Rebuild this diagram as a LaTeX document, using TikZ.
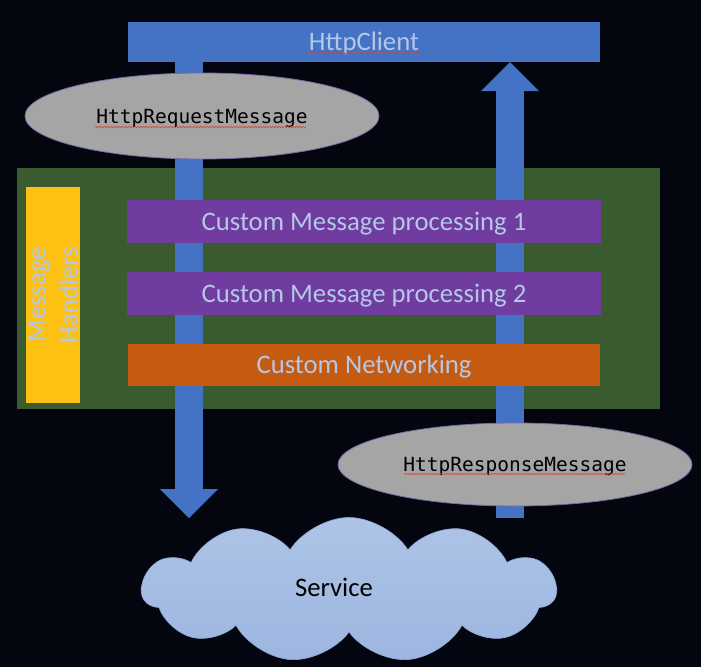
\documentclass[tikz,border=0pt]{standalone}
\usepackage{fontspec}
\setmainfont{Carlito}
\newfontfamily\codefont{DejaVu Sans Mono}
\usetikzlibrary{shapes.geometric,shapes.symbols,arrows.meta,decorations.pathmorphing}

\definecolor{bgnavy}{HTML}{03060F}
\definecolor{clientblue}{HTML}{4472C4}
\definecolor{textblue}{HTML}{B4C7E7}
\definecolor{handlergreen}{HTML}{3A5A30}
\definecolor{handleryellow}{HTML}{FDC114}
\definecolor{stepviolet}{HTML}{703CA0}
\definecolor{netorange}{HTML}{C55A11}
\definecolor{msggray}{HTML}{A5A5A5}
\definecolor{msgedge}{HTML}{7B68A6}
\definecolor{cloudblue}{HTML}{ADC4E7}
\definecolor{cloudlow}{HTML}{9DB6E0}
\definecolor{cloudedge}{HTML}{8FA8D8}
\definecolor{spellred}{HTML}{D9442B}

\tikzset{
  plainbox/.style={rectangle, inner sep=0pt, draw=none},
  bigfont/.style={font=\fontsize{26.7}{32}\selectfont},
  bigtext/.style={bigfont, text=textblue, text height=17.2pt, text depth=0pt},
  msg/.style={ellipse, fill=msggray, draw=msgedge, line width=0.8pt, inner sep=0pt,
    font=\codefont\fontsize{19.5}{23}\selectfont, text=black,
    text height=14.2pt, text depth=0pt},
  flow/.style={draw=clientblue, line width=28pt,
    -{Triangle[length=29pt, width=58pt, line width=0pt]}},
  squiggle/.style={draw=spellred, line width=0.6pt, decorate,
    decoration={snake, amplitude=0.7pt, segment length=3pt}},
}

\begin{document}
\begin{tikzpicture}[x=1pt, y=-1pt]
  % background
  \fill[bgnavy] (0,0) rectangle (701,667);
  \useasboundingbox (0,0) rectangle (701,667);

  % client on top
  \node[plainbox, fill=clientblue, minimum width=472pt, minimum height=40pt, bigtext] (client) at (364,42) {HttpClient};

  % handler area
  \node[plainbox, fill=handlergreen, minimum width=643pt, minimum height=241pt] (handlers) at (338.5,288.5) {};
  \node[plainbox, fill=handleryellow, minimum width=54pt, minimum height=216pt] (handlertag) at (53,295) {};
  \node[bigfont, text=textblue, rotate=90, align=center, inner sep=0pt] (handlername) at (handlertag) {Message\\Handlers};

  % request goes down, response comes up
  \coordinate (sendtip) at (189,518);
  \coordinate (backfoot) at (510,518);
  \draw[flow] (client.south -| sendtip) -- (sendtip);
  \draw[flow] (backfoot) -- (client.south -| backfoot);

  % the handler steps
  \node[plainbox, fill=stepviolet, minimum width=474pt, minimum height=43pt, bigtext] (step1) at (364,221.5) {Custom Message processing 1};
  \node[plainbox, fill=stepviolet, minimum width=474pt, minimum height=43pt, bigtext] (step2) at (364,293.5) {Custom Message processing 2};
  \node[plainbox, fill=netorange, minimum width=472pt, minimum height=42pt, bigtext] (network) at (364,365) {Custom Networking};

  % messages
  \node[msg, minimum width=354pt, minimum height=86pt] (request) at (202,116) {HttpRequestMessage};
  \node[msg, minimum width=354pt, minimum height=83pt] (response) at (515,464.5) {HttpResponseMessage};

  % service cloud
  \node[cloud, cloud puffs=11, cloud puff arc=115, cloud ignores aspect,
    minimum width=414pt, minimum height=145pt, inner sep=0pt,
    top color=cloudblue, middle color=cloudblue, bottom color=cloudlow,
    draw=cloudedge, line width=0.6pt] (service) at (349,590) {};
  \node[bigfont, text=black, text height=17.2pt, text depth=0pt] (servicename) at (334,587.5) {Service};

  % spelling marks
  \draw[squiggle] (307,53) -- (422,53);
  \draw[squiggle] (95,127) -- (306,127);
  \draw[squiggle] (404,474) -- (625,474);
\end{tikzpicture}
\end{document}
